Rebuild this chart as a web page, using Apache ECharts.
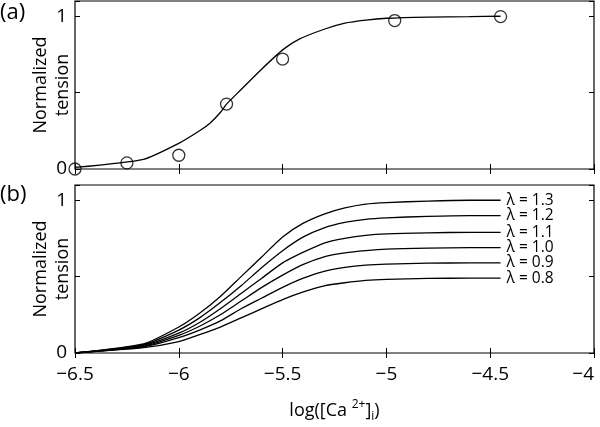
<!DOCTYPE html>
<html>
<head>
<meta charset="utf-8">
<title>Normalized tension</title>
<script src="https://cdn.jsdelivr.net/npm/echarts@6/dist/echarts.min.js"></script>
<style>
  html, body { margin: 0; padding: 0; background: #fff; }
  #main { width: 600px; height: 427px; }
</style>
</head>
<body>
<div id="main"></div>
<script>
// panel (a): measured points and fitted curve
var obsX = [-6.5, -6.25, -6.0, -5.77, -5.5, -4.96, -4.45];
var obsY = [0.0, 0.04, 0.09, 0.425, 0.72, 0.972, 0.998];
var fitX = [-6.5, -6.17, -6.0, -5.9, -5.85, -5.8, -5.77, -5.7, -5.6, -5.5, -5.42, -5.3, -5.2, -5.1, -5.0, -4.8, -4.6, -4.45];
var fitY = [0.01, 0.063, 0.168, 0.25, 0.30, 0.37, 0.425, 0.52, 0.655, 0.78, 0.85, 0.915, 0.955, 0.975, 0.987, 0.995, 0.998, 1.0];

// panel (b): curves for several lambda values
var curveX = [-6.5, -6.17, -6.0, -5.9, -5.8, -5.7, -5.6, -5.5, -5.4, -5.3, -5.2, -5.1, -5.0, -4.8, -4.6, -4.45];
var lam13 = [0, 0.060, 0.170, 0.26, 0.37, 0.50, 0.63, 0.76, 0.85, 0.91, 0.95, 0.975, 0.985, 0.995, 1.0, 1.0];
var lam12 = [0, 0.055, 0.150, 0.23, 0.33, 0.44, 0.56, 0.67, 0.76, 0.82, 0.855, 0.875, 0.885, 0.895, 0.9, 0.9];
var lam11 = [0, 0.050, 0.130, 0.20, 0.29, 0.39, 0.49, 0.59, 0.66, 0.72, 0.75, 0.77, 0.78, 0.787, 0.79, 0.79];
var lam10 = [0, 0.045, 0.115, 0.175, 0.25, 0.34, 0.43, 0.51, 0.58, 0.63, 0.655, 0.67, 0.68, 0.687, 0.69, 0.69];
var lam09 = [0, 0.040, 0.100, 0.15, 0.21, 0.29, 0.36, 0.43, 0.49, 0.535, 0.56, 0.575, 0.582, 0.588, 0.59, 0.59];
var lam08 = [0, 0.035, 0.075, 0.12, 0.17, 0.23, 0.29, 0.35, 0.40, 0.44, 0.46, 0.475, 0.482, 0.488, 0.49, 0.49];
var lamNames = ['λ = 1.3', 'λ = 1.2', 'λ = 1.1', 'λ = 1.0', 'λ = 0.9', 'λ = 0.8'];
var lamData = [lam13, lam12, lam11, lam10, lam09, lam08];

var FONT = 'Open Sans';

function pairs(xs, ys) {
  return xs.map(function (x, i) { return [x, ys[i]]; });
}

function xAxes(gi) {
  var base = {
    type: 'value', gridIndex: gi, min: -6.5, max: -4, interval: 0.5,
    axisLine: { show: false }, splitLine: { show: false },
    axisTick: { inside: true, length: 5, lineStyle: { color: '#000' } }
  };
  var bottom = Object.assign({}, base, {
    position: 'bottom',
    axisLabel: {
      show: gi === 1, color: '#000', fontFamily: FONT, fontSize: 19, margin: 12,
      alignMaxLabel: 'right',
      formatter: function (v) { return String(v).replace('-', '\u2212'); }
    }
  });
  if (gi === 1) {
    bottom.name = '{n|log([Ca }{sup|2+}{n|]}{sub|i}{n|)}';
    bottom.nameLocation = 'middle';
    bottom.nameGap = 46;
    bottom.nameMoveOverlap = false;
    bottom.nameTextStyle = {
      rich: {
        n: { fontFamily: FONT, fontSize: 18, color: '#000' },
        sup: { fontFamily: FONT, fontSize: 12, color: '#000', verticalAlign: 'top', padding: [0, 0, 10, 0] },
        sub: { fontFamily: FONT, fontSize: 12, color: '#000', padding: [12, 0, 0, 0] }
      }
    };
  }
  var top = Object.assign({}, base, { position: 'top', axisLabel: { show: false } });
  return [bottom, top];
}

function yAxes(gi) {
  var base = {
    type: 'value', gridIndex: gi, min: 0, max: 1.1, interval: 0.5,
    axisLine: { show: false }, splitLine: { show: false },
    axisTick: { inside: true, length: 5, lineStyle: { color: '#000' } }
  };
  var left = Object.assign({}, base, {
    position: 'left',
    name: 'Normalized\ntension',
    nameLocation: 'middle',
    nameGap: 1,
    nameMoveOverlap: false,
    nameTextStyle: { fontFamily: FONT, fontSize: 18, color: '#000', lineHeight: 22 },
    axisLabel: {
      color: '#000', fontFamily: FONT, fontSize: 19, margin: 8,
      formatter: function (v) { return v === 0 ? '0' : (v === 1 ? '1' : ''); }
    }
  });
  var right = Object.assign({}, base, { position: 'right', axisLabel: { show: false } });
  return [left, right];
}

var series = [
  {
    type: 'line', xAxisIndex: 0, yAxisIndex: 0, data: pairs(fitX, fitY),
    showSymbol: false, smooth: 0.2, lineStyle: { color: '#000', width: 1.3 }, silent: true
  },
  {
    type: 'scatter', xAxisIndex: 0, yAxisIndex: 0, data: pairs(obsX, obsY),
    symbol: 'circle', symbolSize: 12,
    itemStyle: { color: 'rgba(0,0,0,0)', borderColor: '#000', borderWidth: 1.3 }
  }
];
lamData.forEach(function (ys, i) {
  series.push({
    type: 'line', xAxisIndex: 2, yAxisIndex: 2, name: lamNames[i],
    data: pairs(curveX, ys), showSymbol: false, smooth: 0.2,
    lineStyle: { color: '#000', width: 1.3 },
    endLabel: {
      show: true, formatter: lamNames[i], distance: 6,
      fontFamily: FONT, fontSize: 15.5, color: '#000'
    }
  });
});

var xa = xAxes(0).concat(xAxes(1));
var ya = yAxes(0).concat(yAxes(1));

var gridBase = { left: 75, right: 6, height: 168, show: true, borderColor: '#000', borderWidth: 1.2,
  backgroundColor: 'transparent', containLabel: false, outerBoundsMode: 'none' };

var chart = echarts.init(document.getElementById('main'));
chart.setOption({
  animation: false,
  backgroundColor: '#fff',
  grid: [
    Object.assign({ top: 1 }, gridBase),
    Object.assign({ top: 185 }, gridBase)
  ],
  xAxis: xa,
  yAxis: ya,
  graphic: [
    { type: 'text', left: 0, top: 2, style: { text: '(a)', fontFamily: FONT, fontSize: 22, fill: '#000' } },
    { type: 'text', left: 0, top: 184, style: { text: '(b)', fontFamily: FONT, fontSize: 22, fill: '#000' } }
  ],
  series: series
});
</script>
</body>
</html>
